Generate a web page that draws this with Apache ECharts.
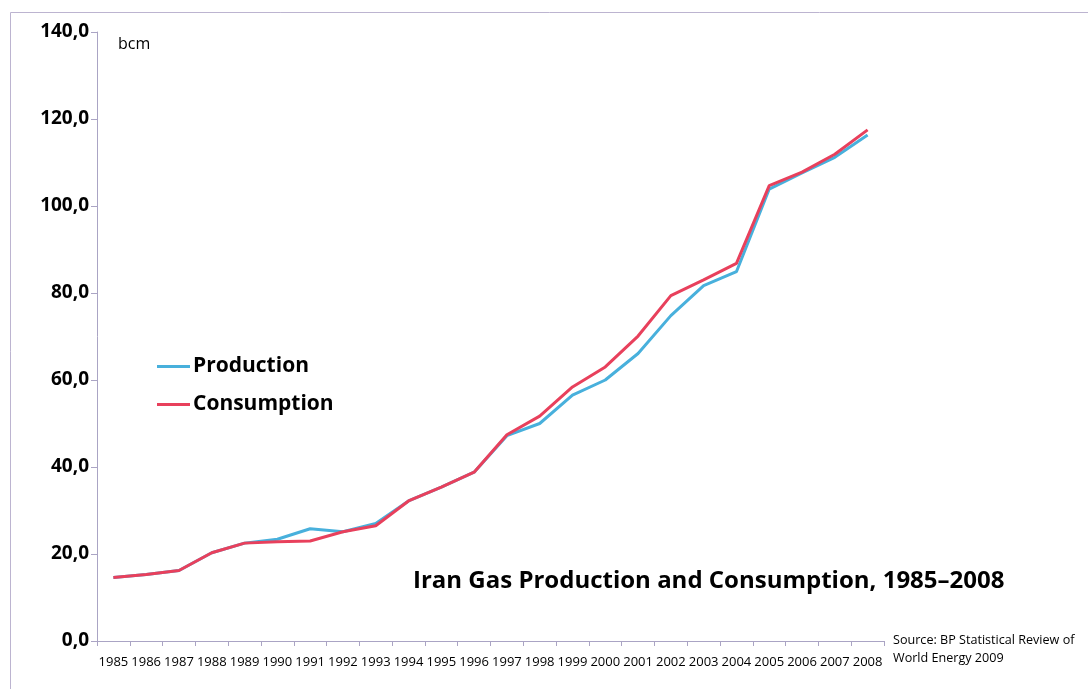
<!DOCTYPE html>
<html>
<head>
<meta charset="utf-8">
<script src="https://cdn.jsdelivr.net/npm/echarts@6/dist/echarts.min.js"></script>
<style>html,body{margin:0;padding:0;background:#fff;}#c{width:1088px;height:689px;}</style>
</head>
<body>
<div id="c"></div>
<script>
const years = ['1985','1986','1987','1988','1989','1990','1991','1992','1993','1994','1995','1996','1997','1998','1999','2000','2001','2002','2003','2004','2005','2006','2007','2008'];
const production = [14.6,15.3,16.2,20.3,22.5,23.4,25.8,25.1,27.0,32.2,35.4,38.8,47.2,50.0,56.5,60.0,66.1,74.8,81.7,84.9,103.9,107.6,111.2,116.3];
const consumption = [14.6,15.3,16.2,20.3,22.5,22.8,23.0,25.1,26.5,32.2,35.4,38.8,47.4,51.7,58.4,63.0,70.1,79.4,83.0,86.8,104.7,107.8,111.9,117.5];
const yTicks = {min:0, max:140, interval:20};

const chart = echarts.init(document.getElementById('c'));
const axisColor = '#aaa4c4';
chart.setOption({
  backgroundColor:'#fff',
  animation:false,
  grid:{left:97, right:204, top:32, bottom:48},
  title:{text:'Iran Gas Production and Consumption, 1985\u20132008', left:408, top:564,
    textStyle:{fontFamily:'Open Sans', fontWeight:'bold', fontSize:24, color:'#000'}},
  legend:{orient:'vertical', left:152, top:351, icon:'rect', itemWidth:33, itemHeight:3, itemGap:17,
    textStyle:{fontFamily:'Open Sans', fontWeight:'bold', fontSize:21, color:'#000', padding:[0,0,0,-2]},
    data:['Production','Consumption']},
  xAxis:{type:'category', data:years, boundaryGap:true,
    axisLine:{lineStyle:{color:axisColor, width:1}},
    axisTick:{show:true, length:5, lineStyle:{color:axisColor}},
    axisLabel:{interval:0, margin:15, fontFamily:'Open Sans', fontSize:13, color:'#000'},
    splitLine:{show:false}},
  yAxis:{type:'value', min:yTicks.min, max:yTicks.max, interval:yTicks.interval,
    axisLine:{show:true, lineStyle:{color:axisColor, width:1}},
    axisTick:{show:true, length:6, lineStyle:{color:axisColor}},
    axisLabel:{margin:8, fontFamily:'Open Sans', fontWeight:'bold', fontSize:19, color:'#000',
      formatter:v=>v.toFixed(1).replace('.',',')},
    splitLine:{show:false}},
  graphic:[
    {type:'rect', left:8, top:10, shape:{width:1200, height:800}, style:{fill:'none', stroke:'#bcb4d0', lineWidth:1}, silent:true},
    {type:'text', left:118, top:36, style:{text:'bcm', fontFamily:'Open Sans', fontSize:16, fill:'#000'}},
    {type:'text', left:893, top:631, style:{text:'Source: BP Statistical Review of\nWorld Energy 2009', fontFamily:'Open Sans', fontSize:12.6, lineHeight:18, fill:'#000'}}
  ],
  series:[
    {name:'Production', type:'line', data:production, symbol:'none', smooth:false,
      lineStyle:{color:'#48b0dc', width:3}, itemStyle:{color:'#48b0dc'}},
    {name:'Consumption', type:'line', data:consumption, symbol:'none', smooth:false,
      lineStyle:{color:'#e8405c', width:3}, itemStyle:{color:'#e8405c'}}
  ]
});
</script>
</body>
</html>
